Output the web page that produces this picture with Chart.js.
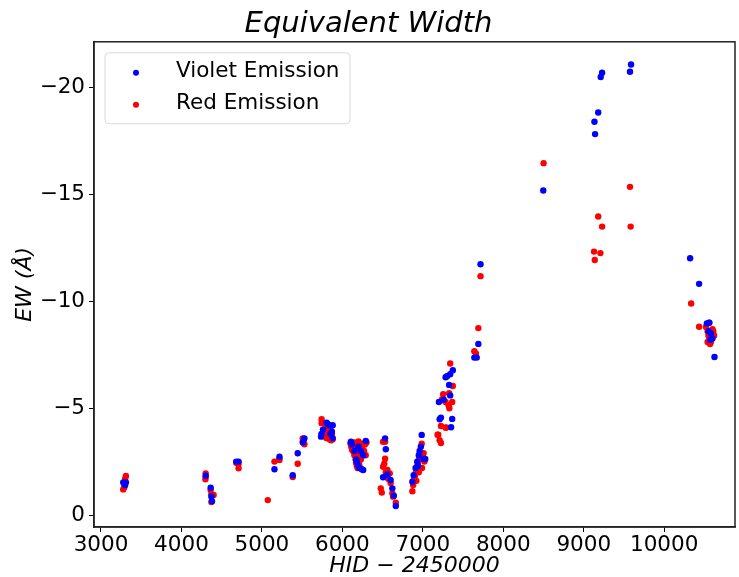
<!DOCTYPE html>
<html>
<head>
<meta charset="utf-8">
<script src="https://cdn.jsdelivr.net/npm/chart.js@4.4.1/dist/chart.umd.min.js"></script>
<style>
  html, body { margin: 0; padding: 0; background: #fff; }
  #wrap { width: 739px; height: 577px; }
</style>
</head>
<body>
<div id="wrap"><canvas id="ewChart" width="739" height="577"></canvas></div>
<script>
// values (HJD - 2450000, EW in Angstrom)
const violetHJD = [3276, 3310, 3300, 3290,
    4301, 4363, 4372, 4380,
    4681, 4710,
    5156, 5218, 5445, 5383, 5528, 5510,
    5735, 5740, 5804, 5820, 5840, 5880, 5870, 5850, 5880, 5760,
    6106, 6120, 6150, 6170, 6190, 6210, 6241, 6260, 6291, 6230, 6200, 6180, 6259,
    6531, 6540, 6506, 6560, 6600, 6621, 6664, 6640,
    6870, 6886, 6910, 6930, 6950, 6960, 6975, 6986, 7010, 7030, 6940,
    7200, 7225, 7209, 7365, 7351, 7327, 7283, 7300, 7340, 7373, 7260, 7340,
    7640, 7670, 7690, 7717,
    8497, 9133, 9141, 9180, 9211, 9228, 9575, 9588,
    10322, 10434, 10530, 10560, 10580, 10600, 10625, 10550, 10570];
const violetEW = [-1.53, -1.53, -1.4, -1.45,
    -1.84, -1.28, -0.87, -0.65,
    -2.5, -2.5,
    -2.14, -2.73, -2.89, -1.86, -3.59, -3.4,
    -3.67, -3.8, -4.32, -4.25, -4.2, -4.2, -3.9, -3.8, -3.6, -4.0,
    -3.43, -3.3, -3.0, -2.6, -2.35, -2.2, -2.14, -2.8, -3.47, -3.0, -3.2, -2.5, -2.11,
    -3.59, -3.08, -1.77, -1.9, -1.64, -1.25, -0.42, -0.9,
    -1.56, -1.87, -2.2, -2.5, -2.8, -3.0, -3.2, -3.75, -2.62, -2.62, -2.3,
    -5.29, -4.56, -4.48, -4.5, -4.11, -6.09, -6.45, -6.5, -6.59, -6.78, -5.4, -5.6,
    -7.37, -7.37, -8.01, -11.74,
    -15.19, -18.41, -17.83, -18.84, -20.5, -20.7, -20.75, -21.09,
    -12.02, -10.82, -8.97, -9.0, -8.5, -8.26, -7.4, -8.6, -8.2];

const redHJD = [3310, 3300, 3290, 3276,
    4301, 4301, 4298, 4363, 4372, 4400, 4372,
    4681, 4710, 4710,
    5073, 5156, 5218, 5218, 5445, 5383,
    5507, 5507, 5528, 5520,
    5742, 5742, 5760, 5790, 5800, 5820, 5840, 5860, 5880, 5830, 5850, 5800, 5780, 5870,
    6100, 6110, 6120, 6130, 6140, 6150, 6160, 6165, 6170, 6175, 6180, 6185, 6190, 6195, 6200,
    6205, 6210, 6215, 6220, 6230, 6240, 6250, 6260, 6270, 6280, 6300, 6290, 6150, 6200,
    6506, 6531, 6506, 6560, 6589, 6540, 6570, 6600, 6477, 6490, 6621, 6630, 6664, 6520, 6531,
    6870, 6880, 6890, 6900, 6910, 6920, 6930, 6940, 6950, 6960, 6986, 7000, 7010, 7020, 6920, 6950, 6990,
    7183, 7192, 7209, 7225, 7225, 7283, 7290, 7253, 7240, 7283, 7365, 7320, 7330, 7327, 7373, 7340,
    7640, 7660, 7690, 7717,
    8501, 9128, 9137, 9207, 9180, 9228, 9575, 9583,
    10335, 10434, 10560, 10520, 10540, 10550, 10560, 10570, 10580, 10590, 10600, 10610, 10620, 10540, 10600];
const redEW = [-1.83, -1.7, -1.3, -1.2,
    -1.95, -1.8, -1.67, -1.17, -0.97, -0.94, -0.61,
    -2.45, -2.4, -2.19,
    -0.7, -2.5, -2.58, -2.65, -2.4, -1.78,
    -3.59, -3.43, -3.31, -3.5,
    -4.48, -4.3, -4.0, -3.8, -3.6, -3.7, -3.55, -3.5, -3.55, -4.1, -4.0, -4.2, -3.9, -3.8,
    -3.35, -3.2, -3.05, -3.3, -2.95, -2.8, -3.2, -2.6, -2.45, -3.0, -2.3, -2.75, -2.2, -3.3, -2.5,
    -2.9, -2.35, -3.1, -2.2, -2.6, -3.2, -2.9, -3.35, -3.0, -3.3, -3.4, -2.8, -3.4, -3.45,
    -3.43, -2.64, -2.26, -2.11, -1.95, -2.0, -1.7, -1.5, -1.25, -1.05, -1.02, -0.86, -0.58, -2.4, -3.43,
    -1.11, -1.4, -1.7, -1.8, -1.95, -2.1, -2.3, -2.45, -2.55, -2.7, -3.34, -2.78, -2.9, -2.5, -1.6, -2.0, -2.2,
    -3.76, -3.76, -3.5, -3.37, -4.17, -4.09, -4.1, -5.65, -5.42, -5.29, -5.29, -5.14, -5.0, -5.7, -6.04, -7.09,
    -7.67, -7.56, -8.75, -11.18,
    -16.47, -12.33, -11.94, -12.26, -13.97, -13.5, -15.36, -13.5,
    -9.9, -8.81, -9.0, -8.8, -8.6, -8.4, -8.2, -8.0, -8.1, -8.3, -8.5, -8.6, -8.4, -8.1, -8.7];

const seriesNames = ['Violet Emission', 'Red Emission'];
const seriesColors = ['#0000ff', '#ff0000'];
const xTicks = [3000, 4000, 5000, 6000, 7000, 8000, 9000, 10000];
const yTicks = [0, -5, -10, -15, -20];

const ctx = document.getElementById('ewChart');
const FONT = 'DejaVu Sans';

function toPoints(xs, ys) {
    return xs.map(function (x, i) { return { x: x, y: ys[i] }; });
}

// top and right spines (Chart.js only draws left / bottom)
const framePlugin = {
    id: 'frame',
    afterDraw: function (chart) {
        const a = chart.chartArea;
        const c = chart.ctx;
        c.save();
        c.strokeStyle = '#222';
        c.lineWidth = 1.5;
        c.strokeRect(a.left, a.top, a.right - a.left, a.bottom - a.top);
        c.restore();
    }
};

// matplotlib-like legend box inside the axes, upper left
const boxLegend = {
    id: 'boxLegend',
    afterDraw: function (chart) {
        const a = chart.chartArea;
        const c = chart.ctx;
        const x0 = a.left + 11, y0 = a.top + 11, w = 245, h = 71;
        c.save();
        c.beginPath();
        c.roundRect(x0, y0, w, h, 4);
        c.fillStyle = 'rgba(255,255,255,0.8)';
        c.fill();
        c.strokeStyle = '#d9d9d9';
        c.lineWidth = 1;
        c.stroke();
        c.font = '21.5px "' + FONT + '"';
        c.textBaseline = 'middle';
        seriesNames.forEach(function (name, i) {
            const cy = y0 + 20 + i * 32;
            c.beginPath();
            c.arc(x0 + 31, cy, 3, 0, Math.PI * 2);
            c.fillStyle = seriesColors[i];
            c.fill();
            c.fillStyle = '#000';
            c.fillText(name, x0 + 71, cy - 1);
        });
        c.restore();
    }
};

new Chart(ctx, {
    type: 'scatter',
    data: {
        datasets: [{
            label: seriesNames[0],
            data: toPoints(violetHJD, violetEW),
            backgroundColor: seriesColors[0],
            borderWidth: 0,
            pointRadius: 3.2
        }, {
            label: seriesNames[1],
            data: toPoints(redHJD, redEW),
            backgroundColor: seriesColors[1],
            borderWidth: 0,
            pointRadius: 3.2
        }]
    },
    options: {
        responsive: false,
        animation: false,
        layout: { padding: { left: 0, right: 2, top: 0, bottom: 0 } },
        plugins: {
            legend: { display: false },
            tooltip: { enabled: false },
            title: {
                display: true,
                text: 'Equivalent Width',
                color: '#000',
                font: { family: FONT, size: 29, style: 'italic', weight: 'normal', lineHeight: 1.2 },
                padding: { top: 7, bottom: 0 }
            }
        },
        scales: {
            x: {
                type: 'linear',
                min: 2913,
                max: 10880,
                afterBuildTicks: function (axis) {
                    axis.ticks = xTicks.map(function (v) { return { value: v }; });
                },
                afterFit: function (axis) { axis.height = 50; },
                ticks: {
                    color: '#000',
                    font: { family: FONT, size: 21.5 },
                    padding: 1,
                    maxRotation: 0,
                    callback: function (v) { return String(v); }
                },
                grid: { drawOnChartArea: false, drawTicks: true, tickLength: 5, color: '#000' },
                border: { display: true, color: '#222', width: 1.5 },
                title: {
                    display: true,
                    text: 'HID − 2450000',
                    color: '#000',
                    font: { family: FONT, size: 22, style: 'italic' },
                    padding: { top: 0, bottom: -2 }
                }
            },
            y: {
                type: 'linear',
                reverse: true,
                min: -22.15,
                max: 0.56,
                afterBuildTicks: function (axis) {
                    axis.ticks = yTicks.map(function (v) { return { value: v }; });
                },
                afterFit: function (axis) { axis.width = 94; },
                ticks: {
                    color: '#000',
                    font: { family: FONT, size: 21.5 },
                    padding: 4,
                    callback: function (v) { return String(v).replace('-', '\u2212'); }
                },
                grid: { drawOnChartArea: false, drawTicks: true, tickLength: 5, color: '#000' },
                border: { display: true, color: '#222', width: 1.5 },
                title: {
                    display: true,
                    text: 'EW (Å)',
                    color: '#000',
                    font: { family: FONT, size: 22, style: 'italic' },
                    padding: { top: 12, bottom: 0 }
                }
            }
        }
    },
    plugins: [framePlugin, boxLegend]
});
</script>
</body>
</html>
